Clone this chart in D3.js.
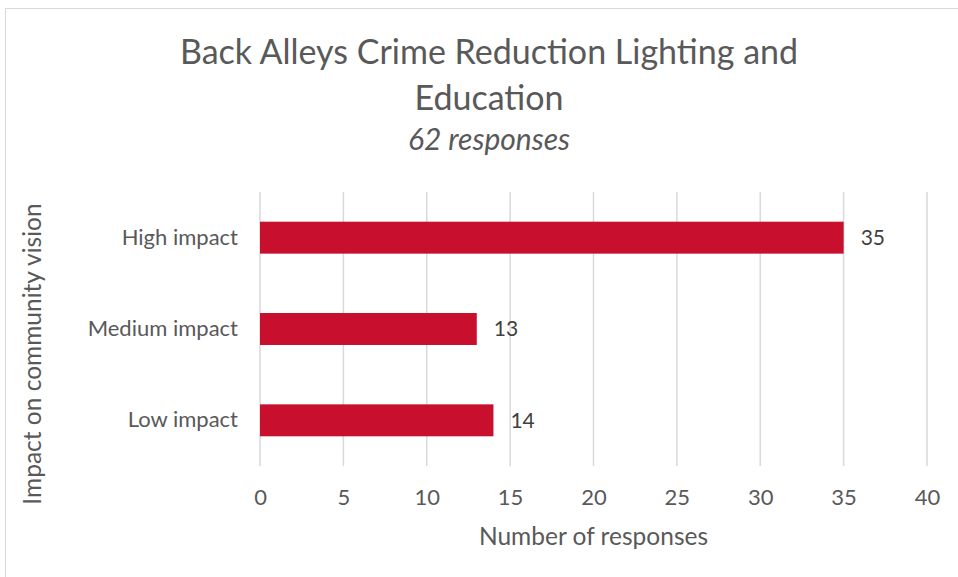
<!DOCTYPE html>
<html>
<head>
<meta charset="utf-8">
<script src="https://cdn.jsdelivr.net/npm/d3@7"></script>
<style>
  html, body { margin: 0; padding: 0; background: #fff; }
  svg { display: block; font-family: Lato, "Open Sans", sans-serif; }
</style>
</head>
<body>
<svg id="chart" width="958" height="577"></svg>
<script>
// Survey results: impact on community vision
const categories = ["High impact", "Medium impact", "Low impact"];
const responses = [35, 13, 14];
const xTicks = [0, 5, 10, 15, 20, 25, 30, 35, 40];
const titleLines = ["Back Alleys Crime Reduction Lighting and", "Education"];
const subtitle = "62 responses";
const xAxisTitle = "Number of responses";
const yAxisTitle = "Impact on community vision";

const svg = d3.select("#chart");
const W = 958, H = 577;
const plot = { left: 260, right: 927, top: 192, bottom: 466 };
const textColor = "#595959";
const barColor = "#C8102E";

// chart frame
svg.append("rect")
  .attr("x", 5.5).attr("y", 8.5)
  .attr("width", W + 10).attr("height", H + 10)
  .attr("fill", "#fff")
  .attr("stroke", "#d9d9d9").attr("stroke-width", 1);

const x = d3.scaleLinear().domain([0, 40]).range([plot.left, plot.right]);
const y = d3.scaleBand().domain(categories)
  .range([plot.top, plot.bottom])
  .paddingInner(0.65).paddingOuter(0.325);

// vertical gridlines
svg.append("g").selectAll("line").data(xTicks).join("line")
  .attr("x1", d => x(d)).attr("x2", d => x(d))
  .attr("y1", plot.top).attr("y2", plot.bottom)
  .attr("stroke", "#d9d9d9").attr("stroke-width", 1.5);

// bars
svg.append("g").selectAll("rect").data(categories).join("rect")
  .attr("x", x(0))
  .attr("y", d => y(d))
  .attr("width", (d, i) => x(responses[i]) - x(0))
  .attr("height", y.bandwidth())
  .attr("fill", barColor);

// value labels
svg.append("g").selectAll("text").data(categories).join("text")
  .attr("x", (d, i) => x(responses[i]) + 17)
  .attr("y", d => y(d) + y.bandwidth() / 2)
  .attr("dy", "0.35em")
  .attr("font-size", 21)
  .attr("fill", "#404040")
  .text((d, i) => responses[i]);

// x axis tick labels
const xAxis = d3.axisBottom(x).tickValues(xTicks).tickSize(0).tickPadding(0);
const gx = svg.append("g").attr("transform", `translate(0,${plot.bottom + 23})`).call(xAxis);
gx.select(".domain").remove();
gx.selectAll("text")
  .attr("font-family", "Lato, 'Open Sans', sans-serif")
  .attr("font-size", 22).attr("fill", textColor);

// y axis category labels
const yAxis = d3.axisLeft(y).tickSize(0).tickPadding(22);
const gy = svg.append("g").attr("transform", `translate(${plot.left},0)`).call(yAxis);
gy.select(".domain").remove();
gy.selectAll("text")
  .attr("font-family", "Lato, 'Open Sans', sans-serif")
  .attr("font-size", 22).attr("fill", textColor);

// titles
const title = svg.append("text")
  .attr("text-anchor", "middle").attr("fill", textColor)
  .attr("font-size", 34);
titleLines.forEach((t, i) => {
  title.append("tspan").attr("x", 489).attr("y", 64 + i * 46).text(t);
});

svg.append("text")
  .attr("x", 489).attr("y", 150)
  .attr("text-anchor", "middle").attr("fill", textColor)
  .attr("font-size", 30).attr("font-style", "italic")
  .text(subtitle);

svg.append("text")
  .attr("x", (plot.left + plot.right) / 2).attr("y", 545)
  .attr("text-anchor", "middle").attr("fill", textColor)
  .attr("font-size", 24.5)
  .text(xAxisTitle);

svg.append("text")
  .attr("transform", `translate(41,${354}) rotate(-90)`)
  .attr("text-anchor", "middle").attr("fill", textColor)
  .attr("font-size", 24.5)
  .text(yAxisTitle);
</script>
</body>
</html>
